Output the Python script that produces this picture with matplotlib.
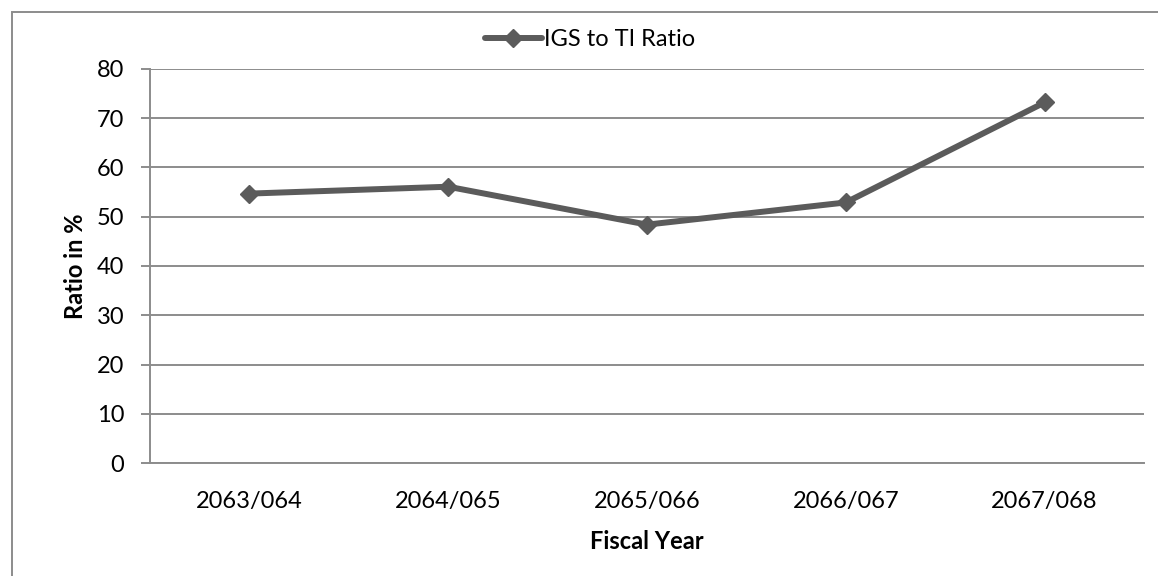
import matplotlib
matplotlib.use("Agg")
import matplotlib.pyplot as plt
from matplotlib.patches import Rectangle

# Ratio of IGS to total investment, by fiscal year
fiscal_years = ["2063/064", "2064/065", "2065/066", "2066/067", "2067/068"]
igs_to_ti_ratio = [54.7, 56.1, 48.4, 52.9, 73.2]
y_ticks = [0, 10, 20, 30, 40, 50, 60, 70, 80]

plt.rcParams["font.family"] = ["Lato", "DejaVu Sans"]

W, H = 1158, 576
fig = plt.figure(figsize=(W / 100, H / 100), dpi=100)
fig.patch.set_facecolor("white")

# chart frame (only the top and left edges fall inside the image)
fig.patches.append(Rectangle((12 / W, -0.05), 1.2, 1 - 12 / H + 0.05,
                             transform=fig.transFigure, fill=False,
                             edgecolor="#8c8c8c", linewidth=1.4))

ax = fig.add_axes([150 / W, 1 - 463 / H, (1144 - 150) / W, (463 - 69) / H])

grid_col = "#8c8c8c"
line_col = "#5b5b5b"

x = list(range(len(fiscal_years)))
ax.plot(x, igs_to_ti_ratio, color=line_col, linewidth=4.3, marker="D",
        markersize=9, markeredgecolor=line_col, markerfacecolor=line_col,
        label="IGS to TI Ratio", solid_capstyle="round", zorder=3)

ax.set_xlim(-0.5, len(fiscal_years) - 0.5)
ax.set_ylim(0, 80)
ax.set_yticks(y_ticks)
ax.set_xticks(x)
ax.set_xticklabels(fiscal_years)

ax.yaxis.grid(True, color=grid_col, linewidth=1.4)
ax.set_axisbelow(True)
for side in ["top", "right"]:
    ax.spines[side].set_visible(False)
ax.spines["left"].set_color(grid_col)
ax.spines["left"].set_linewidth(1.4)
ax.spines["bottom"].set_color(grid_col)
ax.spines["bottom"].set_linewidth(1.4)

ax.tick_params(axis="y", length=6.5, width=1.4, color=grid_col, pad=12,
               labelsize=17, labelcolor="black")
ax.tick_params(axis="x", length=0, pad=20, labelsize=17, labelcolor="black")

ax.set_xlabel("Fiscal Year", fontsize=17, fontweight="bold", labelpad=13)
ax.set_ylabel("Ratio in %", fontsize=17, fontweight="bold", labelpad=7)

leg = ax.legend(loc="center", bbox_to_anchor=(590 / W, 1 - 40 / H),
                bbox_transform=fig.transFigure, frameon=False, fontsize=17,
                handlelength=2.4, handletextpad=0.1, borderpad=0)

fig.savefig("out.png", dpi=100, facecolor="white")
